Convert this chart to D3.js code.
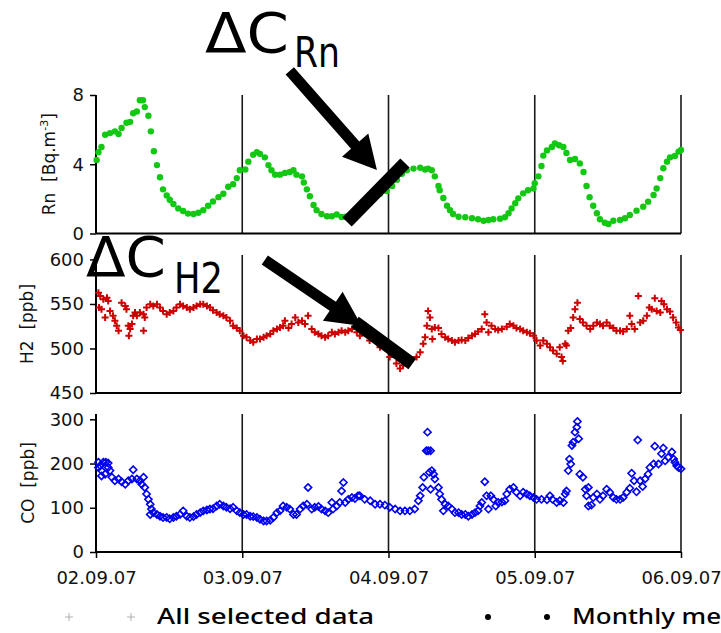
<!DOCTYPE html>
<html>
<head>
<meta charset="utf-8">
<script src="https://cdn.jsdelivr.net/npm/d3@7"></script>
<style>
  html, body { margin: 0; padding: 0; background: #fff; overflow: hidden; }
  svg { display: block; }
</style>
</head>
<body>
<svg id="chart" width="721" height="633"></svg>
<script>
// Day labels at midnight, hours counted from 02.09.07 00:00
const dayLabels = ["02.09.07", "03.09.07", "04.09.07", "05.09.07", "06.09.07"];
const dayHours = [0, 24, 48, 72, 96];

// Radon activity [Bq.m-3]: [hour, value]
const rnData = [
  [0.1,4.25],[0.4,4.7],[0.9,5.0],[1.5,5.7],[2.3,5.8],[3.1,5.9],[3.7,5.75],[4.2,6.1],[5.0,6.4],[5.6,6.45],
  [6.1,6.95],[6.7,7.05],[7.2,7.7],[7.7,7.7],[8.0,7.3],[8.6,6.8],[9.0,5.9],[9.5,4.75],[10.0,3.95],[10.5,3.25],
  [11.0,2.55],[11.6,2.2],[12.1,1.95],[12.7,1.7],[13.5,1.45],[14.3,1.3],[15.1,1.15],[16.0,1.13],[16.8,1.2],[17.6,1.35],
  [18.4,1.6],[19.2,1.85],[20.1,2.1],[20.9,2.3],[21.7,2.7],[22.5,2.85],[23.1,3.2],[23.6,3.65],[24.5,3.7],[25.0,4.15],
  [25.8,4.55],[26.4,4.7],[26.9,4.6],[27.7,4.4],[28.3,3.95],[28.8,3.65],[29.4,3.4],[30.2,3.4],[31.0,3.5],[31.8,3.55],
  [32.4,3.65],[32.9,3.4],[33.8,3.3],[34.1,2.95],[34.6,2.55],[35.1,2.15],[35.7,1.65],[36.2,1.35],[37.0,1.13],[37.9,1.0],
  [38.7,1.0],[39.5,1.1],[40.3,0.95],[41.0,0.97],[41.7,1.05],[42.7,1.2],[43.7,1.45],[44.6,1.75],[45.6,2.05],[46.6,2.3],
  [47.7,2.45],[48.6,2.75],[49.4,3.1],[50.2,3.45],[51.0,3.65],[52.1,3.75],[53.2,3.8],[54.0,3.7],[54.5,3.75],[55.1,3.65],
  [55.6,3.3],[56.2,2.75],[56.4,2.5],[57.0,2.05],[57.6,1.6],[58.1,1.35],[58.6,1.13],[59.5,0.97],[60.6,0.94],[61.7,0.88],
  [62.7,0.82],[63.6,0.74],[64.4,0.78],[65.2,0.82],[66.3,0.85],[67.1,0.94],[67.7,1.17],[68.2,1.45],[68.8,1.75],[69.3,2.03],
  [70.1,2.32],[70.9,2.5],[71.8,2.6],[72.0,2.9],[72.6,3.3],[73.1,3.9],[73.4,4.5],[74.0,4.8],[74.8,5.0],[75.3,5.2],
  [76.0,5.1],[76.7,5.0],[77.2,4.65],[77.8,4.25],[78.6,4.3],[79.4,4.05],[80.0,3.55],[80.5,2.75],[81.0,2.1],[81.6,1.6],
  [82.2,1.17],[82.7,0.82],[83.5,0.62],[84.1,0.55],[84.9,0.74],[86.0,0.78],[86.8,0.88],[87.6,1.07],[88.7,1.32],[89.8,1.55],
  [90.6,1.84],[91.5,2.22],[92.0,2.6],[92.6,3.2],[93.1,3.77],[93.7,4.15],[94.2,4.4],[95.0,4.48],[95.6,4.73],[96.0,4.82]
];

// Hydrogen mixing ratio [ppb]: [hour, value]
const h2Data = [
  [0.4,562.6],[0.7,558.9],[0.5,545.9],[1.2,555.2],[1.8,557],[2.0,553.3],[0.9,544],[1.5,534.8],[2.3,542.2],[2.8,536.7],
  [3.1,531.1],[3.4,525.6],[3.7,520],[4.2,551.4],[4.8,547.8],[5.0,544],[5.3,525.6],[5.4,514.4],[5.6,521.9],[5.9,527.4],
  [6.1,536.7],[6.4,540.4],[6.7,536.7],[7.2,540.4],[7.8,520],[7.8,538.5],[8.0,534.8],[8.3,545.9],[8.9,549.6],[9.4,547.8],
  [10.0,549.6],[10.5,545.9],[11.0,542.2],[11.6,538.5],[12.1,540.4],[12.7,542.2],[13.2,545.9],[13.8,549.6],[14.3,547.8],[14.9,545.9],
  [15.4,544],[16.0,545.9],[16.5,547.8],[17.1,549.6],[17.6,549.6],[18.2,547.8],[18.7,545.9],[19.2,543],[19.8,540.4],[20.3,538.5],
  [20.9,536.7],[21.4,534.8],[22.0,531.1],[22.5,525.6],[23.1,523],[23.6,520],[24.2,514.4],[24.7,512.6],[25.3,508.9],[25.8,507],
  [26.4,510.7],[26.9,510.7],[27.5,512.6],[28.0,514.4],[28.6,516.3],[29.1,520],[29.7,521.9],[30.2,523.7],[30.7,525.6],[31.0,531.1],
  [31.6,523],[32.1,527.4],[32.7,534.8],[33.2,529.2],[33.8,531.1],[34.3,527.4],[34.8,536.7],[35.4,521.9],[35.9,518.1],[36.5,516.3],
  [37.0,514.4],[37.6,512.6],[38.1,514.4],[38.7,518.1],[39.2,516.3],[39.8,518.1],[40.3,520],[40.9,518.1],[41.4,520],[42.0,521.9],
  [42.8,518.1],[43.3,514.4],[44.9,508.9],[46.6,501.5],[48.2,490.4],[49.3,483],[49.9,477.4],[50.4,481.1],[51.5,486.7],[52.6,490.4],
  [53.2,495.9],[53.7,505.2],[54.0,512.6],[54.3,525.6],[54.5,542.2],[54.8,534.8],[55.1,521.9],[55.2,510.7],[55.6,523.7],[56.2,523],
  [56.7,516.3],[57.3,512.6],[57.8,510.7],[58.4,508.9],[58.9,507],[59.5,508.9],[60.0,509.6],[60.6,508.9],[61.1,511.9],[61.7,514.4],
  [62.2,516.3],[62.7,519.2],[63.3,521.9],[63.8,538.5],[64.1,529.2],[64.4,518.1],[64.9,525.6],[65.5,521.9],[66.0,520.7],[66.6,521.9],
  [67.4,524.4],[67.9,527.4],[68.5,525.6],[69.0,523],[69.6,521.9],[70.1,520],[70.7,518.1],[71.2,517],[71.8,514.4],[72.3,508.9],
  [72.9,503.3],[73.4,508.9],[74.0,505.2],[74.5,501.5],[75.0,497.8],[75.6,494.1],[76.1,501.5],[76.4,490.4],[76.6,485.9],[77.0,505.2],
  [77.2,503.3],[77.5,520],[77.9,523],[78.3,534.8],[78.6,544],[79.0,551.4],[79.4,533],[79.9,529.2],[80.5,525.6],[81.1,521.9],
  [81.6,525.6],[82.2,529.2],[82.7,527.4],[83.2,525.6],[83.8,529.2],[84.3,525.6],[84.9,523],[85.4,520],[86.0,520],[86.5,519.2],
  [87.1,521.9],[87.6,536.7],[87.9,527.4],[88.4,521.9],[89.0,558.9],[89.3,529.2],[89.8,531.1],[90.4,536.7],[90.8,545.9],[91.2,544],
  [91.7,556.3],[92.0,542.2],[92.6,540.4],[92.8,553.3],[93.2,549.6],[93.7,544],[94.2,541.5],[94.7,534.8],[95.2,529.2],[95.6,523.7],
  [95.9,520.7]
];

// Carbon monoxide mixing ratio [ppb]: [hour, value]
const coData = [
  [0.4,203],[0.7,195],[0.4,191],[0.9,184],[1.2,203],[1.6,203],[2.0,201],[2.3,184],[0.9,172],[1.5,176],
  [2.0,191],[2.6,169],[3.1,161],[3.7,165],[4.2,159],[4.8,153],[5.3,161],[6.1,186],[5.9,165],[6.7,165],
  [7.2,161],[7.8,169],[7.5,153],[8.0,146],[8.3,131],[8.6,119],[8.9,108],[9.1,97],[8.9,85],[9.4,89],
  [10.0,85],[10.5,81],[11.0,78],[11.6,78],[12.1,75],[12.7,78],[13.2,81],[13.8,85],[14.3,93],[14.9,81],
  [15.4,78],[16.0,80],[16.5,85],[17.1,89],[17.6,93],[18.2,95],[18.7,97],[19.2,98],[19.8,104],[20.3,108],
  [20.9,104],[21.4,101],[22.0,98],[22.5,101],[23.1,93],[23.6,89],[24.2,85],[24.7,85],[25.3,81],[25.8,80],
  [26.4,78],[26.9,74],[27.5,70],[28.0,70],[28.6,72],[29.1,78],[29.7,89],[30.2,93],[30.7,104],[31.3,101],
  [31.8,97],[32.4,85],[32.9,85],[33.5,97],[34.0,104],[34.6,108],[34.8,146],[35.4,97],[35.9,101],[36.5,103],
  [37.0,97],[37.6,93],[38.1,89],[38.7,112],[38.9,97],[39.5,104],[40.0,112],[40.3,138],[40.6,157],[40.9,112],
  [41.4,119],[42.0,123],[42.5,121],[43.0,127],[43.3,127],[44.1,119],[45.0,116],[45.8,108],[46.6,108],[47.4,106],
  [48.2,101],[49.1,97],[49.9,93],[50.7,93],[51.5,93],[52.3,97],[52.9,116],[53.2,127],[53.6,146],[53.8,169],
  [54.2,229],[54.5,229],[54.9,229],[54.4,271],[54.7,180],[55.1,184],[55.4,176],[55.6,165],[54.9,142],[56.2,146],
  [56.4,131],[56.7,119],[57.3,108],[57.0,93],[57.8,104],[58.4,97],[58.9,89],[59.5,89],[60.0,85],[60.6,85],
  [61.1,81],[61.7,85],[62.2,89],[62.7,93],[63.0,104],[63.3,112],[63.8,159],[64.1,127],[64.4,97],[64.8,127],
  [65.2,119],[65.6,104],[66.0,112],[66.6,113],[67.1,116],[67.4,131],[67.9,142],[68.5,146],[69.0,135],[69.6,127],
  [70.1,135],[70.7,131],[71.2,127],[71.8,123],[72.3,119],[73.1,119],[74.0,118],[74.5,127],[74.9,119],[75.6,112],
  [76.1,116],[76.7,112],[77.0,131],[77.2,138],[77.5,184],[77.7,210],[77.9,199],[78.1,241],[78.3,248],[78.6,271],
  [78.9,282],[79.0,295],[79.2,256],[79.4,176],[79.9,169],[80.3,142],[80.8,146],[80.5,127],[80.8,104],[81.3,106],
  [81.6,123],[82.2,131],[82.7,119],[83.2,127],[83.8,142],[84.3,135],[84.9,123],[85.4,119],[86.0,119],[86.5,123],
  [87.1,135],[87.6,144],[87.9,178],[88.3,161],[88.7,136],[88.9,253],[89.3,161],[89.7,148],[90.1,165],[90.6,176],
  [90.9,191],[91.5,199],[91.7,239],[92.3,199],[92.8,222],[93.1,235],[93.4,206],[93.9,214],[94.5,226],[94.8,210],
  [95.0,203],[95.3,195],[95.6,191],[96.0,188]
];

const rnTicks = [0, 4, 8];
const h2Ticks = [450, 500, 550, 600];
const coTicks = [0, 100, 200, 300];

const svg = d3.select("#chart");
const tickFont = "'DejaVu Sans', sans-serif";

const x = d3.scaleLinear().domain([0, 96]).range([96, 681]);

const panels = [
  { key: "rn", data: rnData, domain: [0, 8],     top: 95,  bottom: 233.5, ticks: rnTicks, label: "Rn",  unit: "[Bq.m", sup: "-3", unitEnd: "]", labelX: 55 },
  { key: "h2", data: h2Data, domain: [450, 605], top: 255, bottom: 393,   ticks: h2Ticks, label: "H2",  unit: "[ppb]", labelX: 33 },
  { key: "co", data: coData, domain: [0, 312],   top: 414, bottom: 552,   ticks: coTicks, label: "CO",  unit: "[ppb]", labelX: 34 }
];

panels.forEach(p => {
  p.y = d3.scaleLinear().domain(p.domain).range([p.bottom, p.top]);
});

// Frames: day separators, left and bottom axes
panels.forEach(p => {
  const g = svg.append("g").attr("class", "frame-" + p.key);
  g.selectAll("line.day")
    .data(dayHours.slice(1))
    .join("line")
    .attr("class", "day")
    .attr("x1", d => x(d)).attr("x2", d => x(d))
    .attr("y1", p.top).attr("y2", p.bottom)
    .attr("stroke", "#1a1a1a").attr("stroke-width", 1.6);

  g.append("line")
    .attr("x1", x(0)).attr("x2", x(96))
    .attr("y1", p.bottom).attr("y2", p.bottom)
    .attr("stroke", "#000").attr("stroke-width", 2);

  const yAxis = d3.axisLeft(p.y).tickValues(p.ticks).tickSize(6).tickPadding(6);
  const ag = g.append("g").attr("transform", `translate(${x(0)},0)`).call(yAxis);
  ag.select(".domain").attr("d", `M-0,${p.top}V${p.bottom}`).attr("stroke", "#000").attr("stroke-width", 2);
  ag.selectAll(".tick line").attr("stroke", "#000").attr("stroke-width", 1.5);
  ag.selectAll(".tick text").attr("font-family", tickFont).attr("font-size", 18).attr("fill", "#111");

  // rotated axis title
  const t = g.append("text")
    .attr("transform", `translate(${p.labelX},${(p.top + p.bottom) / 2}) rotate(-90)`)
    .attr("text-anchor", "middle")
    .attr("font-family", tickFont).attr("font-size", 17).attr("fill", "#111")
    .style("white-space", "pre");
  t.append("tspan").text(p.label + "  " + p.unit);
  if (p.sup) {
    t.append("tspan").attr("font-size", 11).attr("dy", -7).text(p.sup);
    t.append("tspan").attr("dy", 7).text(p.unitEnd);
  }
});

// Date axis below the CO panel
const coPanel = panels[2];
const xAxis = d3.axisBottom(x).tickValues(dayHours).tickSize(6).tickPadding(13)
  .tickFormat((d, i) => dayLabels[i]);
const xg = svg.append("g").attr("transform", `translate(0,${coPanel.bottom})`).call(xAxis);
xg.select(".domain").remove();
xg.selectAll(".tick line").attr("stroke", "#000").attr("stroke-width", 1.5);
xg.selectAll(".tick text").attr("font-family", tickFont).attr("font-size", 18).attr("fill", "#111");

// Rn: filled green dots
const rnP = panels[0];
svg.append("g").selectAll("circle")
  .data(rnP.data)
  .join("circle")
  .attr("cx", d => x(d[0]))
  .attr("cy", d => rnP.y(d[1]))
  .attr("r", 3.2)
  .attr("fill", "#12c812");

// H2: red plus signs
const h2P = panels[1];
svg.append("g").selectAll("path")
  .data(h2P.data)
  .join("path")
  .attr("transform", d => `translate(${x(d[0])},${h2P.y(d[1])})`)
  .attr("d", "M-3.5,0H3.5M0,-3.5V3.5")
  .attr("stroke", "#cc0000")
  .attr("stroke-width", 2)
  .attr("fill", "none");

// CO: open blue diamonds
svg.append("g").selectAll("path")
  .data(coPanel.data)
  .join("path")
  .attr("transform", d => `translate(${x(d[0])},${coPanel.y(d[1])})`)
  .attr("d", "M0,-3.6L3.6,0L0,3.6L-3.6,0Z")
  .attr("stroke", "#0000f0")
  .attr("stroke-width", 1.6)
  .attr("fill", "none");

// Annotations: thick bars marking the concentration increments and arrows
function bar(p, a, b, w) {
  svg.append("line")
    .attr("x1", x(a[0])).attr("y1", p.y(a[1]))
    .attr("x2", x(b[0])).attr("y2", p.y(b[1]))
    .attr("stroke", "#000").attr("stroke-width", w).attr("stroke-linecap", "butt");
}
function arrow(p, a, b, shaft, headLen, headW) {
  const x1 = x(a[0]), y1 = p.y(a[1]), x2 = x(b[0]), y2 = p.y(b[1]);
  const dx = x2 - x1, dy = y2 - y1, len = Math.hypot(dx, dy);
  const ux = dx / len, uy = dy / len, nx = -uy, ny = ux;
  const bx = x2 - ux * headLen, by = y2 - uy * headLen;
  const pts = [
    [x1 + nx * shaft / 2, y1 + ny * shaft / 2],
    [bx + nx * shaft / 2, by + ny * shaft / 2],
    [bx + nx * headW / 2, by + ny * headW / 2],
    [x2, y2],
    [bx - nx * headW / 2, by - ny * headW / 2],
    [bx - nx * shaft / 2, by - ny * shaft / 2],
    [x1 - nx * shaft / 2, y1 - ny * shaft / 2]
  ];
  svg.append("path").attr("d", "M" + pts.map(q => q.join(",")).join("L") + "Z").attr("fill", "#000");
}

bar(rnP, [41.2, 0.66], [50.7, 4.07], 13);
arrow(rnP, [31.8, 9.4], [46.1, 3.67], 11, 33, 35);

bar(h2P, [42.5, 529.7], [51.9, 482.6], 13);
arrow(h2P, [27.7, 599.4], [43.6, 525.3], 11, 35, 35);

// ΔC labels with species subscript
function deltaLabel(px, base, w, sub, subX, subBase, subW, size, subSize) {
  const g = svg.append("g").attr("font-family", "'DejaVu Sans', sans-serif").attr("fill", "#000");
  g.append("text").attr("x", px).attr("y", base).attr("font-size", size)
    .attr("textLength", w).attr("lengthAdjust", "spacingAndGlyphs").text("ΔC");
  g.append("text").attr("x", subX).attr("y", subBase).attr("font-size", subSize)
    .attr("textLength", subW).attr("lengthAdjust", "spacingAndGlyphs").text(sub);
}
deltaLabel(205, 52, 84, "Rn", 294, 67, 46, 56, 42);
deltaLabel(86, 276, 80, "H2", 174, 293, 49, 56, 42);

// Legend (wide lettering: stretched horizontally)
const lg = svg.append("g");
[69, 131].forEach(px => {
  lg.append("path").attr("transform", `translate(${px},617)`)
    .attr("d", "M-4,0H4M0,-4V4").attr("stroke", "#b0b0b0").attr("stroke-width", 1);
});
[488, 547].forEach(px => {
  lg.append("circle").attr("cx", px).attr("cy", 617).attr("r", 3).attr("fill", "#000");
});
lg.append("text").attr("transform", "translate(157,624) scale(1.26,1)")
  .attr("font-family", "'Noto Sans', sans-serif").attr("font-size", 22).attr("font-weight", 500)
  .text("All selected data");
lg.append("text").attr("transform", "translate(572,624) scale(1.18,1)")
  .attr("font-family", "'Noto Sans', sans-serif").attr("font-size", 22).attr("font-weight", 500)
  .text("Monthly mean");
</script>
</body>
</html>
